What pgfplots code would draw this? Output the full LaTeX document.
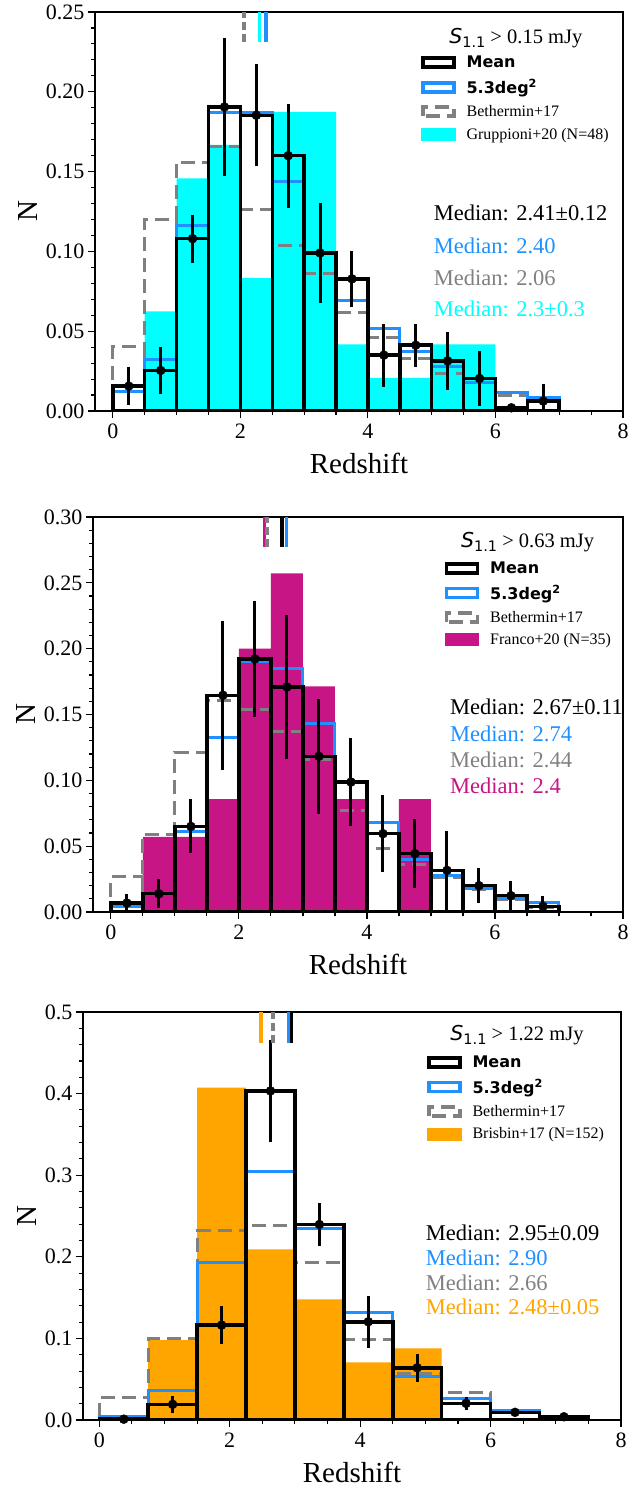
\documentclass[border=0pt]{standalone}
\usepackage{fontspec}
\setmainfont{Liberation Serif}
\setsansfont{DejaVu Sans}
\newfontfamily\djv{DejaVu Sans}
\usepackage{pgfplots}
\pgfplotsset{compat=1.18}

\definecolor{dodger}{HTML}{1E90FF}
\definecolor{mgrey}{HTML}{808080}
\definecolor{mcyan}{HTML}{00FFFF}
\definecolor{mvr}{HTML}{C71585}
\definecolor{morange}{HTML}{FFA500}

\newcommand{\tfont}{\fontsize{22}{26}\selectfont}
\newcommand{\lfont}{\fontsize{29}{34}\selectfont}
\newcommand{\mfont}{\fontsize{22.5}{27}\selectfont}
\newcommand{\legfont}{\fontsize{16}{19}\selectfont}
\newcommand{\ttl}[1]{{\fontsize{20.5}{24}\selectfont{\djv\itshape S}\raisebox{-0.22em}{\djv\fontsize{14.5}{15}\selectfont 1.1} > #1 mJy}}

\pgfplotsset{
 common/.style={
  scale only axis,
  axis line style={line width=1.2pt},
  tick style={black, line width=1.1pt},
  major tick length=7pt, minor tick length=4pt,
  tick align=outside, tick pos=left,
  xtick={0,2,4,6,8}, minor x tick num=3,
  xmax=8, ymin=0,
  tick label style={font=\tfont},
  xticklabel style={yshift=-2pt},
  label style={font=\lfont},
  xlabel style={yshift=-8pt},
  ylabel style={yshift=2pt},
  xlabel={Redshift}, ylabel={N},
  /pgf/number format/assume math mode=true,
  scaled y ticks=false,
  legend cell align=left,
  legend style={draw=none, fill=none, font=\legfont, inner sep=0pt, outer sep=0pt,
     row sep=8pt, column sep=10pt, anchor=north west, nodes={inner sep=1pt}},
  reverse legend,
 },
 histk/.style={ybar interval, draw=black, fill=none, line width=3.5pt,
   legend image code/.code={\draw[black, line width=3.5pt] (0pt,-4.5pt) rectangle (31pt,4.5pt);}},
 histb/.style={ybar interval, draw=dodger, fill=none, line width=3pt,
   legend image code/.code={\draw[dodger, line width=3.5pt] (0pt,-4.5pt) rectangle (31pt,4.5pt);}},
 histg/.style={ybar interval, draw=mgrey, fill=none, line width=3pt, dash pattern=on 14pt off 7pt,
   legend image code/.code={\draw[mgrey, line width=3.5pt, dash pattern=on 14pt off 7pt] (0pt,-4.5pt) rectangle (31pt,4.5pt);}},
 histf/.style={ybar interval, draw=none, fill=#1,
   legend image code/.code={\fill[#1] (-1.75pt,-6.5pt) rectangle (32.75pt,6.5pt);}},
 errs/.style={only marks, mark=*, mark size=4.5pt, black, forget plot,
   error bars/.cd, y dir=both, y explicit, error mark=none,
   error bar style={line width=3pt, black}},
 med/.style={line width=3.5pt, forget plot},
}

\begin{document}
\begin{tikzpicture}
\useasboundingbox (0,0) rectangle (630pt,-1488pt);

% ---------------- Panel 1 ----------------
\begin{axis}[common, at={(95pt,-411pt)}, anchor=south west, width=528pt, height=399pt,
  xmin=-0.28, ymax=0.25, ytick={0,0.05,0.10,0.15,0.20,0.25}, minor y tick num=4,
  yticklabel style={/pgf/number format/.cd, fixed, fixed zerofill, precision=2},
  legend style={at={(axis description cs:0.6176,0.892)}}]
\addplot[histf=mcyan] coordinates {(0,0) (0.5,0.0625) (1,0.1458) (1.5,0.1667) (2,0.0833) (2.5,0.1875) (3,0.1875) (3.5,0.0417) (4,0.0208) (4.5,0.0208) (5,0.0417) (5.5,0.0417) (6,0) (6.5,0) (7,0)};
\addlegendentry{Gruppioni+20 (N=48)}
\addplot[histg] coordinates {(0,0.0402) (0.5,0.120) (1,0.156) (1.5,0.166) (2,0.126) (2.5,0.104) (3,0.086) (3.5,0.0616) (4,0.0458) (4.5,0.0329) (5,0.0235) (5.5,0.018) (6,0.010) (6.5,0.006) (7,0.006)};
\addlegendentry{Bethermin+17}
\addplot[histb] coordinates {(0,0.012) (0.5,0.0325) (1,0.116) (1.5,0.187) (2,0.187) (2.5,0.144) (3,0.099) (3.5,0.0693) (4,0.0516) (4.5,0.037) (5,0.0277) (5.5,0.0179) (6,0.0117) (6.5,0.0083) (7,0.0083)};
\addlegendentry{\sffamily\bfseries 5.3deg\textsuperscript{2}}
\addplot[histk] coordinates {(0,0.0156) (0.5,0.0254) (1,0.108) (1.5,0.1905) (2,0.1853) (2.5,0.160) (3,0.099) (3.5,0.0828) (4,0.035) (4.5,0.0412) (5,0.0314) (5.5,0.0204) (6,0.002) (6.5,0.0062) (7,0.0062)};
\addlegendentry{\sffamily\bfseries Mean}
\addplot[errs] coordinates {(0.25,0.0156) +- (0,0.012) (0.75,0.0254) +- (0,0.0145) (1.25,0.108) +- (0,0.015) (1.75,0.1905) +- (0,0.043) (2.25,0.1853) +- (0,0.032) (2.75,0.160) +- (0,0.0325) (3.25,0.099) +- (0,0.0315) (3.75,0.0828) +- (0,0.0175) (4.25,0.035) +- (0,0.0198) (4.75,0.0412) +- (0,0.0135) (5.25,0.0314) +- (0,0.018) (5.75,0.0204) +- (0,0.017) (6.25,0.002) +- (0,0.002) (6.75,0.0062) +- (0,0.011)};
\addplot[med, black] coordinates {(2.41,0.23125) (2.41,0.25)};
\addplot[med, dodger] coordinates {(2.40,0.23125) (2.40,0.25)};
\addplot[med, mgrey, dash pattern=on 8pt off 4pt] coordinates {(2.06,0.23125) (2.06,0.25)};
\addplot[med, mcyan] coordinates {(2.30,0.23125) (2.30,0.25)};
\node at (axis description cs:0.797,0.935) {\ttl{0.15}};
\node[anchor=west, inner sep=0pt, font=\mfont, text=black] at (axis description cs:0.6414,0.4962) {Median: 2.41±0.12};
\node[anchor=west, inner sep=0pt, font=\mfont, text=dodger] at (axis description cs:0.6414,0.4135) {Median: 2.40};
\node[anchor=west, inner sep=0pt, font=\mfont, text=mgrey] at (axis description cs:0.6414,0.3333) {Median: 2.06};
\node[anchor=west, inner sep=0pt, font=\mfont, text=mcyan] at (axis description cs:0.6414,0.2556) {Median: 2.3±0.3};
\end{axis}

% ---------------- Panel 2 ----------------
\begin{axis}[common, at={(93pt,-912pt)}, anchor=south west, width=530pt, height=395pt,
  xmin=-0.28, ymax=0.30, ytick={0,0.05,0.10,0.15,0.20,0.25,0.30}, minor y tick num=4,
  yticklabel style={/pgf/number format/.cd, fixed, fixed zerofill, precision=2},
  legend style={at={(axis description cs:0.6636,0.889)}}]
\addplot[histf=mvr] coordinates {(0,0) (0.5,0.0571) (1,0.0571) (1.5,0.0857) (2,0.2) (2.5,0.2571) (3,0.1714) (3.5,0.0857) (4,0) (4.5,0.0857) (5,0) (5.5,0) (6,0) (6.5,0) (7,0)};
\addlegendentry{Franco+20 (N=35)}
\addplot[histg] coordinates {(0,0.0266) (0.5,0.0592) (1,0.1215) (1.5,0.161) (2,0.1537) (2.5,0.137) (3,0.116) (3.5,0.0772) (4,0.0486) (4.5,0.036) (5,0.0263) (5.5,0.017) (6,0.0094) (6.5,0.0038) (7,0.0038)};
\addlegendentry{Bethermin+17}
\addplot[histb] coordinates {(0,0.0043) (0.5,0.014) (1,0.0613) (1.5,0.1329) (2,0.190) (2.5,0.1848) (3,0.143) (3.5,0.098) (4,0.0681) (4.5,0.0397) (5,0.0276) (5.5,0.0175) (6,0.0106) (6.5,0.0076) (7,0.0076)};
\addlegendentry{\sffamily\bfseries 5.3deg\textsuperscript{2}}
\addplot[histk] coordinates {(0,0.0068) (0.5,0.0139) (1,0.065) (1.5,0.1646) (2,0.1922) (2.5,0.1709) (3,0.1182) (3.5,0.0987) (4,0.0595) (4.5,0.0443) (5,0.0316) (5.5,0.020) (6,0.0124) (6.5,0.0043) (7,0.0043)};
\addlegendentry{\sffamily\bfseries Mean}
\addplot[errs] coordinates {(0.25,0.0068) +- (0,0.007) (0.75,0.0139) +- (0,0.011) (1.25,0.065) +- (0,0.0205) (1.75,0.1646) +- (0,0.0566) (2.25,0.1922) +- (0,0.0443) (2.75,0.1709) +- (0,0.0546) (3.25,0.1182) +- (0,0.0435) (3.75,0.0987) +- (0,0.0335) (4.25,0.0595) +- (0,0.029) (4.75,0.0443) +- (0,0.026) (5.25,0.0316) +- (0,0.030) (5.75,0.020) +- (0,0.0133) (6.25,0.0124) +- (0,0.011) (6.75,0.0043) +- (0,0.008)};
\addplot[med, black] coordinates {(2.67,0.2775) (2.67,0.30)};
\addplot[med, dodger] coordinates {(2.74,0.2775) (2.74,0.30)};
\addplot[med, mvr] coordinates {(2.40,0.2775) (2.40,0.30)};
\addplot[med, mgrey, dash pattern=on 8pt off 4pt] coordinates {(2.44,0.2775) (2.44,0.30)};
\node at (axis description cs:0.820,0.9375) {\ttl{0.63}};
\node[anchor=west, inner sep=0pt, font=\mfont, text=black] at (axis description cs:0.6736,0.519) {Median: 2.67±0.11};
\node[anchor=west, inner sep=0pt, font=\mfont, text=dodger] at (axis description cs:0.6736,0.4506) {Median: 2.74};
\node[anchor=west, inner sep=0pt, font=\mfont, text=mgrey] at (axis description cs:0.6736,0.3848) {Median: 2.44};
\node[anchor=west, inner sep=0pt, font=\mfont, text=mvr] at (axis description cs:0.6736,0.319) {Median: 2.4};
\end{axis}

% ---------------- Panel 3 ----------------
\begin{axis}[common, at={(83pt,-1420pt)}, anchor=south west, width=538pt, height=408pt,
  xmin=-0.25, ymax=0.5, ytick={0,0.1,0.2,0.3,0.4,0.5}, minor y tick num=4,
  yticklabel style={/pgf/number format/.cd, fixed, fixed zerofill, precision=1},
  legend style={at={(axis description cs:0.6394,0.8946)}}]
\addplot[histf=morange] coordinates {(0,0) (0.75,0.098) (1.5,0.4073) (2.25,0.209) (3,0.148) (3.75,0.0706) (4.5,0.0878) (5.25,0) (6,0) (6.75,0) (7.5,0)};
\addlegendentry{Brisbin+17 (N=152)}
\addplot[histg] coordinates {(0,0.0278) (0.75,0.100) (1.5,0.2318) (2.25,0.2388) (3,0.1927) (3.75,0.0992) (4.5,0.057) (5.25,0.0339) (6,0.012) (6.75,0.003) (7.5,0.003)};
\addlegendentry{Bethermin+17}
\addplot[histb] coordinates {(0,0.0049) (0.75,0.0367) (1.5,0.1935) (2.25,0.305) (3,0.2347) (3.75,0.1314) (4.5,0.053) (5.25,0.0265) (6,0.0122) (6.75,0.003) (7.5,0.003)};
\addlegendentry{\sffamily\bfseries 5.3deg\textsuperscript{2}}
\addplot[histk] coordinates {(0,0.001) (0.75,0.0192) (1.5,0.1163) (2.25,0.4033) (3,0.2396) (3.75,0.1204) (4.5,0.064) (5.25,0.0204) (6,0.0094) (6.75,0.004) (7.5,0.004)};
\addlegendentry{\sffamily\bfseries Mean}
\addplot[errs] coordinates {(0.375,0.001) +- (0,0.001) (1.125,0.0192) +- (0,0.01) (1.875,0.1163) +- (0,0.0235) (2.625,0.4033) +- (0,0.063) (3.375,0.2396) +- (0,0.0265) (4.125,0.1204) +- (0,0.032) (4.875,0.064) +- (0,0.017) (5.625,0.0204) +- (0,0.008) (6.375,0.0094) +- (0,0.003) (7.125,0.004) +- (0,0.002)};
\addplot[med, black] coordinates {(2.95,0.4625) (2.95,0.5)};
\addplot[med, dodger] coordinates {(2.90,0.4625) (2.90,0.5)};
\addplot[med, mgrey, dash pattern=on 8pt off 4pt] coordinates {(2.66,0.4625) (2.66,0.5)};
\addplot[med, morange] coordinates {(2.48,0.4625) (2.48,0.5)};
\node at (axis description cs:0.8067,0.9436) {\ttl{1.22}};
\node[anchor=west, inner sep=0pt, font=\mfont, text=black] at (axis description cs:0.6368,0.4583) {Median: 2.95±0.09};
\node[anchor=west, inner sep=0pt, font=\mfont, text=dodger] at (axis description cs:0.6368,0.3978) {Median: 2.90};
\node[anchor=west, inner sep=0pt, font=\mfont, text=mgrey] at (axis description cs:0.6368,0.3365) {Median: 2.66};
\node[anchor=west, inner sep=0pt, font=\mfont, text=morange] at (axis description cs:0.6368,0.2777) {Median: 2.48±0.05};
\end{axis}
\end{tikzpicture}
\end{document}
